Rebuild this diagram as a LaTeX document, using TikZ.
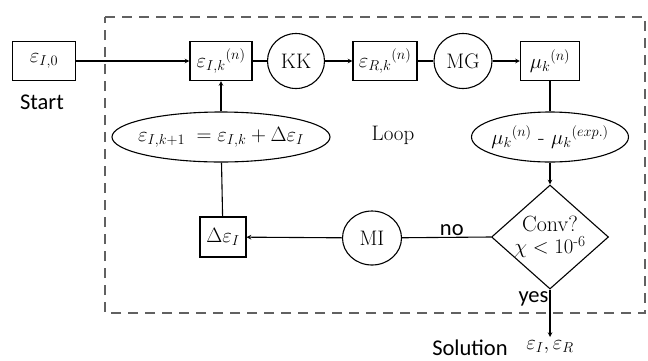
\documentclass[tikz,border=0pt]{standalone}
\usepackage{amsmath}
\usepackage{fontspec}
\newfontfamily\labelfont{Carlito}
\usetikzlibrary{shapes.geometric}
\definecolor{loopgray}{rgb}{0.38, 0.38, 0.38}

\tikzset{
  box/.style={draw, line width=1.1pt, minimum width=#1, minimum height=39pt, inner sep=0pt},
  round/.style={draw, ellipse, line width=1.1pt, minimum width=58pt, minimum height=55pt, inner sep=0pt},
  oval/.style={draw, ellipse, line width=1.1pt, minimum width=#1, minimum height=50pt, inner sep=-18pt},
  tag/.style={font=\labelfont\fontsize{22.5}{26}\selectfont},
  link/.style={line width=1.1pt},
  flow/.style={line width=1.1pt, -stealth}
}

\begin{document}
\begin{tikzpicture}[x=1pt, y=-1pt, font=\fontsize{21}{24}\selectfont]
    \useasboundingbox (0,0) rectangle (648,360);
    \draw[loopgray, line width=2.6pt, dash pattern=on 10pt off 7pt] (105,17) -- (645,17) -- (645,313) -- (105,313) -- cycle;
    % top row
    \node[box=63pt] (eI0) at (44,61) {$\varepsilon_{I,0}$};
    \node[tag] (start) at (42,102) {Start};
    \node[box=62pt] (eIk) at (221,61) {$\varepsilon_{I,k}{}^{(n)}$};
    \node[round, minimum width=57pt] (kk) at (296,61) {KK};
    \node[box=64pt] (eRk) at (385,61) {$\varepsilon_{R,k}{}^{(n)}$};
    \node[round] (mg) at (463,61) {MG};
    \node[box=59pt] (mu) at (550,61) {$\mu_k{}^{(n)}$};
    % middle row
    \node[oval=218pt, font=\fontsize{20.5}{24}\selectfont] (update) at (221,137) {$\varepsilon_{I,k+1}\;=\varepsilon_{I,k}+\Delta\varepsilon_I$};
    \node (loop) at (393,135) {Loop};
    \node[oval=157pt, font=\fontsize{21.5}{24}\selectfont] (diff) at (550,137) {$\mu_k{}^{(n)}$ - $\mu_k{}^{(exp.)}$};
    % bottom row
    \node[draw, diamond, aspect=1.12, line width=1.1pt, minimum width=117pt, minimum height=104pt, inner sep=0pt] (conv) at (550,237) {};
    \node[align=center, font=\fontsize{22}{24}\selectfont] (convtext) at (conv.center) {Conv?\\[-2pt]$\chi < 10^{\text{-6}}$};
    \node[round, minimum width=59pt, minimum height=54pt] (mi) at (372,238) {MI};
    \node[box=46pt, minimum height=40pt] (dI) at (223,237) {$\Delta\varepsilon_I$};
    \coordinate (out) at (550,337);
    \node[tag] (sol) at (470,348) {Solution};
    \node (res) at (550,347) {$\varepsilon_I, \varepsilon_R$};
    % connectors
    \draw[flow] (eI0) -- (eIk);
    \draw[link] (eIk) -- (kk);
    \draw[flow] (kk) -- (eRk);
    \draw[link] (eRk) -- (mg);
    \draw[flow] (mg) -- (mu);
    \draw[link] (mu) -- (diff);
    \draw[flow] (diff) -- (conv);
    \draw[link] (conv.west) -- node[tag, above, pos=0.44, inner sep=1pt] {no} (mi);
    \draw[flow] (mi) -- (dI);
    \draw[link] (dI) -- (update);
    \draw[flow] (update) -- (eIk);
    \draw[flow] (conv.south) -- node[tag, left, pos=0.2, inner sep=1pt] {yes} (out);
\end{tikzpicture}
\end{document}
